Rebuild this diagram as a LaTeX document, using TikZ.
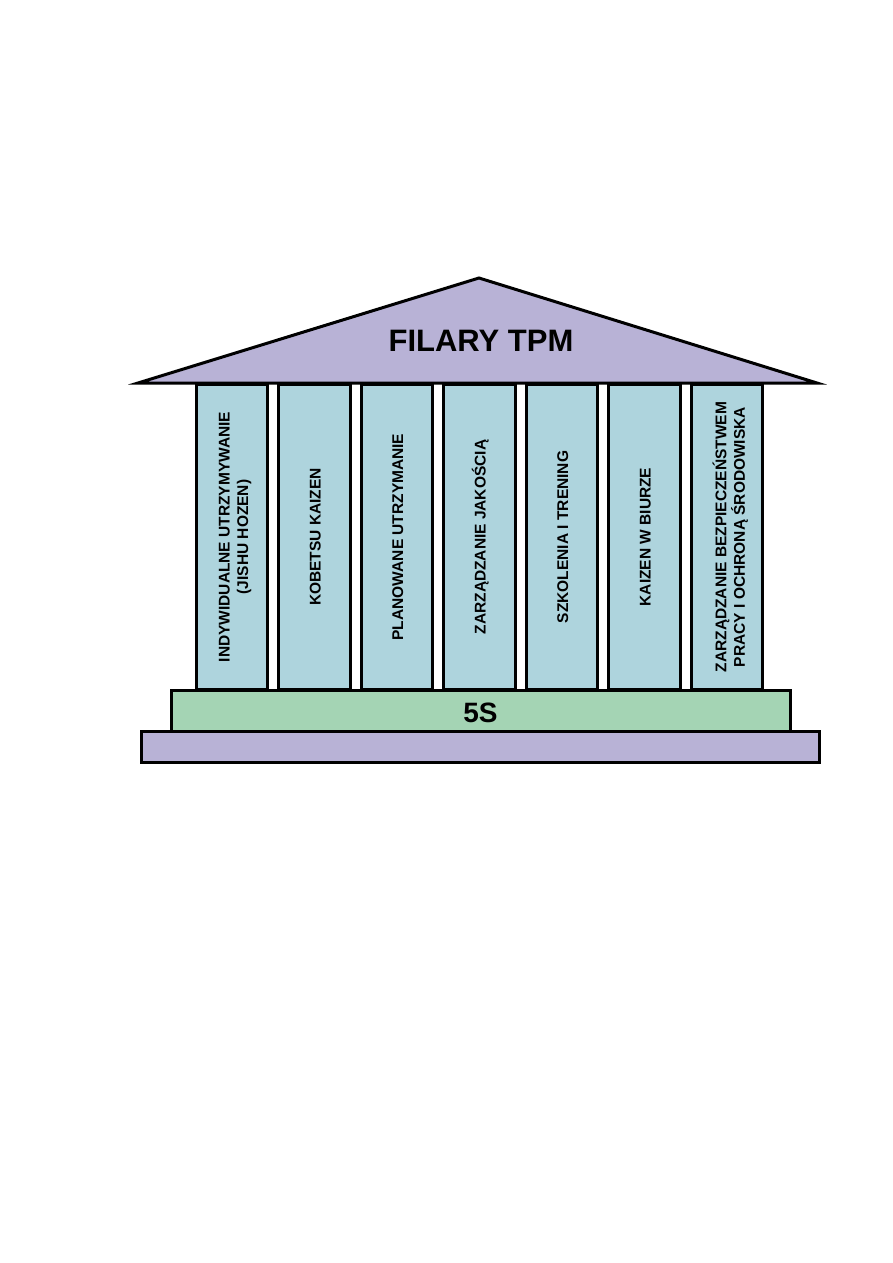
\documentclass[tikz,border=0pt]{standalone}
\usepackage{fontspec}
\setmainfont{Liberation Sans}
\usetikzlibrary{calc}
\definecolor{lav}{HTML}{B8B2D6}
\definecolor{colblue}{HTML}{AED4DD}
\definecolor{slabgreen}{HTML}{A4D4B4}
\begin{document}
\begin{tikzpicture}[x=1pt,y=-1pt,
  pillar/.style={draw=black,line width=3pt,fill=colblue,minimum width=71.5pt,minimum height=305pt,inner sep=0pt,anchor=north west},
  pillartext/.style={rotate=90,font=\bfseries\fontsize{15.5}{18.5}\selectfont,align=center,inner sep=0pt},
  slab/.style={draw=black,line width=3pt,inner sep=0pt,anchor=north west}]
\useasboundingbox (0,0) rectangle (893,1263);
\foreach \i/\t/\dx in {0/{INDYWIDUALNE UTRZYMYWANIE\\(JISHU HOZEN)}/3.5,1/{KOBETSU KAIZEN}/1,2/{PLANOWANE UTRZYMANIE}/1,3/{ZARZĄDZANIE JAKOŚCIĄ}/1,4/{SZKOLENIA I TRENING}/1,5/{KAIZEN W BIURZE}/1,6/{ZARZĄDZANIE BEZPIECZEŃSTWEM\\PRACY I OCHRONĄ ŚRODOWISKA}/3.5}{
  \node[pillar] (p\i) at ({194.5+82.5*\i},383) {};
  \node[pillartext] (t\i) at ($(p\i.center)+(\dx,0)$) {\t};
}
\node[slab,fill=lav,minimum width=678pt,minimum height=31pt] (base) at (139.5,729.5) {};
\node[slab,fill=slabgreen,minimum width=619pt,minimum height=40.5pt] (fives) at (169.5,689) {};
\node[font=\bfseries\fontsize{28}{30}\selectfont] (fivest) at ($(fives.center)+(0,2)$) {5S};
\coordinate (tipL) at (138,383);
\coordinate (apex) at (479,278);
\coordinate (tipR) at (817,383);
\draw[line width=3pt,fill=lav,line join=miter,miter limit=20] (tipL) -- (apex) -- (tipR) -- cycle;
\node[font=\bfseries\fontsize{31}{33}\selectfont] (title) at (481,341) {FILARY TPM};
\end{tikzpicture}
\end{document}
